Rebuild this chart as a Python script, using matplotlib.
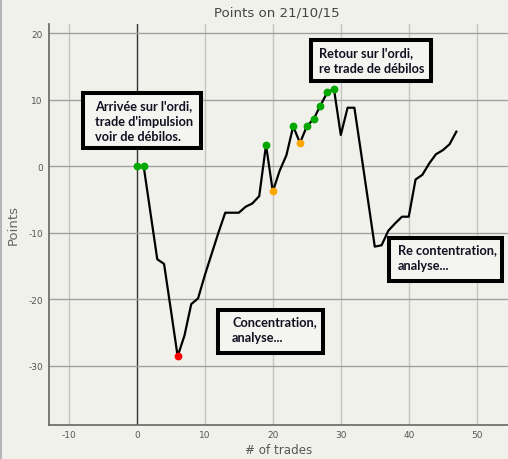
import matplotlib
matplotlib.use("Agg")
import matplotlib.pyplot as plt
from matplotlib.lines import Line2D
from matplotlib.patches import Rectangle

plt.rcParams["axes.unicode_minus"] = False

# ---- data ----
trades = list(range(48))
points = [0, 0, -7, -14, -14.7, -21.6, -28.6, -25.5, -20.75, -19.9,
          -16.4, -13.2, -10, -7, -7, -7, -6.1, -5.6, -4.5, 3.2,
          -3.8, -0.7, 1.65, 6.0, 3.5, 6.0, 7.1, 9.1, 11.1, 11.6,
          4.7, 8.8, 8.8, 1.9, -5.1, -12.1, -11.9, -9.7, -8.6, -7.6,
          -7.6, -2.0, -1.3, 0.4, 1.8, 2.4, 3.3, 5.2]
green_idx = [0, 1, 19, 23, 25, 26, 27, 28, 29]
orange_idx = [20, 24]
red_idx = [6]

x_ticks = [-10, 0, 10, 20, 30, 40, 50]
y_ticks = [-30, -20, -10, 0, 10, 20]

title = "Points on 21/10/15"
xlabel = "# of trades"
ylabel = "Points"

# text, text x, text top y, box x0, box x1, box y_top, box y_bottom
notes = [
    ("Arrivée sur l'ordi,\ntrade d'impulsion\nvoir de débilos.", -6.1, 10.15, -7.95, 9.4, 11.05, 2.8),
    ("Retour sur l'ordi,\nre trade de débilos", 26.8, 18.1, 25.55, 43.25, 18.95, 12.85),
    ("Concentration,\nanalyse...", 14.0, -22.45, 11.95, 27.35, -21.6, -28.15),
    ("Re contentration,\nanalyse...", 38.35, -11.6, 37.15, 53.75, -10.75, -17.25),
]

bg = "#f1f1ec"
fig = plt.figure(figsize=(5.08, 4.60), dpi=100, facecolor=bg)
ax = fig.add_axes([48.5 / 508, 1 - 425.7 / 460, 1 - 48.5 / 508, (425.7 - 25) / 460])
ax.set_facecolor(bg)

ax.set_xlim(-13.0, 54.6)
ax.set_ylim(-38.9, 21.4)
ax.set_xticks(x_ticks)
ax.set_yticks(y_ticks)

for xv in x_ticks:
    ax.axvline(xv, color="#333333" if xv == 0 else "#c4c4c0", lw=1.0, zorder=0)
for yv in y_ticks:
    ax.axhline(yv, color="#a0a0a0", lw=1.0, zorder=0)

ax.plot(trades, points, color="black", lw=1.6, zorder=3)
ax.plot([trades[i] for i in green_idx], [points[i] for i in green_idx], "o",
        color="#00a800", ms=4.6, zorder=4)
ax.plot([trades[i] for i in orange_idx], [points[i] for i in orange_idx], "o",
        color="#ffa500", ms=4.6, zorder=4)
ax.plot([trades[i] for i in red_idx], [points[i] for i in red_idx], "o",
        color="#ff0000", ms=4.6, zorder=4)

for s in ["top", "right"]:
    ax.spines[s].set_visible(False)
for s in ["left", "bottom"]:
    ax.spines[s].set_color("#666666")
    ax.spines[s].set_linewidth(1.2)

ax.tick_params(length=0, labelsize=6.5, labelcolor="#555555", pad=4)
ax.set_xlabel(xlabel, fontsize=8.6, color="#555555", labelpad=3)
ax.set_ylabel(ylabel, fontsize=9.5, color="#666666", labelpad=6)
fig.text(277 / 508, 1 - 13 / 460, title, ha="center", va="center",
         fontsize=9.6, color="#444444")

for text, tx, ty, bx0, bx1, byt, byb in notes:
    ax.add_patch(Rectangle((bx0, byb), bx1 - bx0, byt - byb, fc="#f4f4f0",
                           ec="black", lw=2.9, zorder=5))
    ax.text(tx, ty, text, fontsize=9.2, fontweight="bold", family="Lato",
            color="#111122", va="top", ha="left", linespacing=1.38, zorder=6)

fig.add_artist(Line2D([0.001, 0.001], [0, 1], color="#aaaaaa", lw=1.2, transform=fig.transFigure))

fig.savefig("out.png", dpi=100, facecolor=bg)
